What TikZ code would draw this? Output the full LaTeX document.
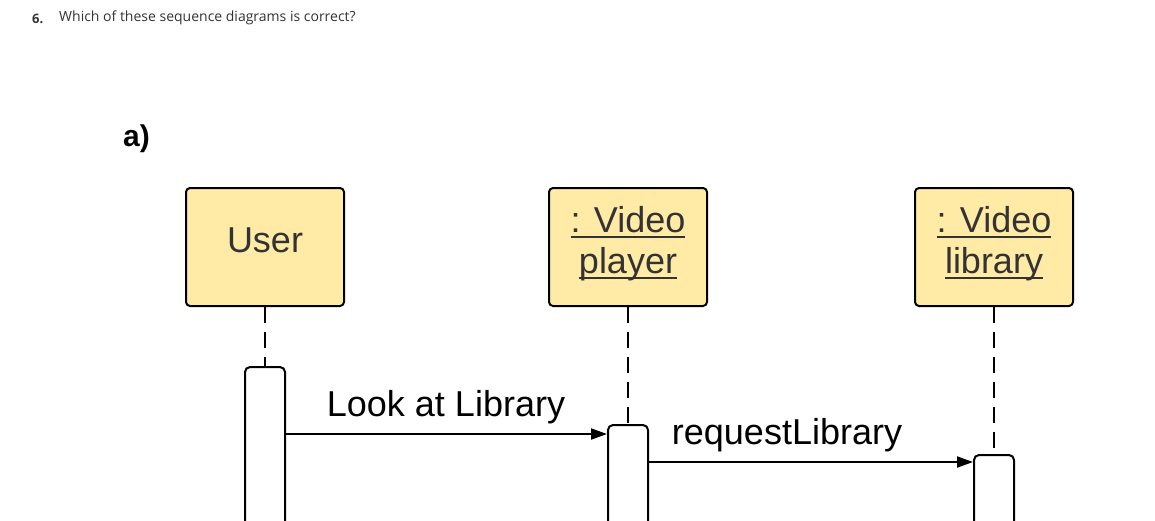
\documentclass[tikz,border=0pt]{standalone}
\usepackage{fontspec}
\setmainfont{Liberation Sans}
\newfontfamily\hdrfont{Open Sans}
\usetikzlibrary{arrows.meta}
\definecolor{boxfill}{HTML}{FFEBA6}
\definecolor{boxtext}{HTML}{333333}
\newcommand\ultext[1]{\setbox0\hbox{#1}\rlap{\rule[-5pt]{\wd0}{2pt}}\box0}
\begin{document}
\begin{tikzpicture}[x=1pt, y=-1pt, line join=round, >={Triangle[length=16pt,width=11pt]},
	obj/.style={draw, line width=2pt, fill=boxfill, rounded corners=4pt, minimum width=158pt, minimum height=118pt,
		text=boxtext, align=center, font=\fontsize{36}{41}\selectfont, text depth=14pt},
	act/.style={draw, line width=2pt, fill=white, rounded corners=5pt, minimum width=40pt, minimum height=200pt, anchor=north, inner sep=0pt},
	life/.style={line width=2pt, dash pattern=on 16pt off 9pt},
	msg/.style={->, line width=2pt},
	lbl/.style={font=\fontsize{36}{41}\selectfont, anchor=base, inner sep=0pt}]
	\useasboundingbox (0,0) rectangle (1155,520);
	\clip (0,0) rectangle (1155,520);
	% heading
	\node[anchor=base west, inner sep=0pt, text=boxtext, font=\hdrfont\bfseries\fontsize{13}{15}\selectfont] (num) at (32,23) {6.};
	\node[anchor=base west, inner sep=0pt, text=boxtext, font=\hdrfont\fontsize{14}{17}\selectfont] (ques) at (59,21) {Which of these sequence diagrams is correct?};
	\node[anchor=base west, inner sep=0pt, font=\bfseries\fontsize{30}{36}\selectfont] (part) at (123,146) {a)};
	% objects
	\node[obj] (user) at (265,247) {User};
	\node[obj] (player) at (628,247) {\ultext{: Video}\\\ultext{player}};
	\node[obj] (library) at (994,247) {\ultext{: Video}\\\ultext{library}};
	% activations
	\node[act] (actU) at (265,366) {};
	\node[act] (actP) at (628,424) {};
	\node[act] (actL) at (994,454) {};
	\foreach \o/\b in {user/actU, player/actP, library/actL} \draw[life] (\o.south) -- (\b.north);
	% messages
	\coordinate (m1) at (0,434); \coordinate (m2) at (0,462);
	\draw[msg] (actU.east |- m1) -- (actP.west |- m1);
	\node[lbl] (lookLbl) at (446,416) {Look at Library};
	\draw[msg] (actP.east |- m2) -- (actL.west |- m2);
	\node[lbl] (reqLbl) at (787,444) {requestLibrary};
\end{tikzpicture}
\end{document}
